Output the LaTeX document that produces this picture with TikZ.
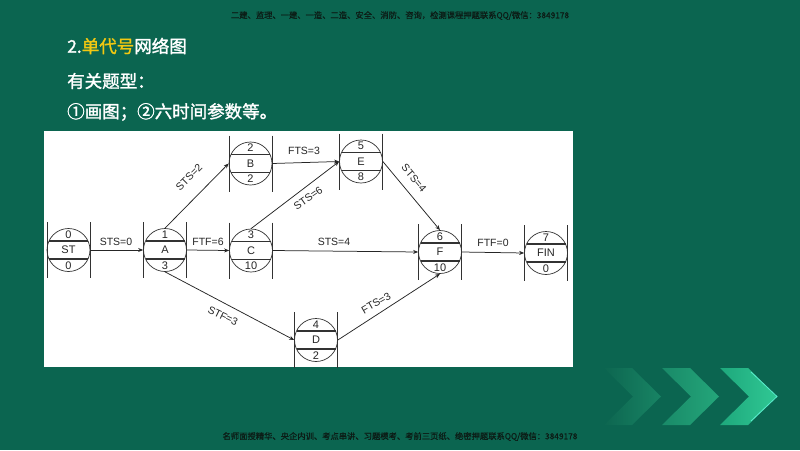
\documentclass[tikz,border=0pt]{standalone}
\usepackage{fontspec}
\setmainfont{Liberation Sans}
\newfontfamily\cjk{Noto Sans CJK SC}
\newfontfamily\cjkb[FakeBold=1.6]{Noto Sans CJK SC}
\newfontfamily\cjkh[FakeBold=0.8]{Noto Sans CJK SC}
\usetikzlibrary{arrows.meta}
\definecolor{bggreen}{RGB}{11,101,80}
\definecolor{hdr}{RGB}{12,28,22}
\definecolor{ttlyellow}{RGB}{242,200,17}
\definecolor{linegray}{RGB}{50,50,50}
\definecolor{chAl}{RGB}{13,102,80}
\definecolor{chAr}{RGB}{24,132,100}
\definecolor{chBl}{RGB}{25,138,104}
\definecolor{chBr}{RGB}{36,166,122}
\definecolor{chCl}{RGB}{30,168,124}
\definecolor{chCr}{RGB}{48,200,148}
\tikzset{
  actc/.style={circle, draw=linegray, line width=0.7pt, minimum size=43pt, inner sep=0pt},
  actl/.style={draw=linegray, line width=1.1pt},
  actbar/.style={draw=linegray, line width=1pt},
  numtxt/.style={font=\fontsize{11}{11}\selectfont, text=black!85, inner sep=0pt},
  conn/.style={draw=black!85, line width=0.75pt, -{Stealth[length=5pt,width=4pt]}},
  lbl/.style={font=\fontsize{10.5}{10.5}\selectfont, text=black!85, inner sep=0pt},
  ttl/.style={font=\cjkb\fontsize{17.5}{17.5}\selectfont, text=white, anchor=west, inner sep=0pt},
  hdrtxt/.style={font=\cjkh\fontsize{8.3}{8.3}\selectfont, text=hdr, inner sep=0pt},
}
\newcommand\actnode[6]{%
  \node[actc] (#1) at (#2,#3) {};
  \begin{scope}[shift={(#2,#3)}]
    \draw[actl] (-19.5,-9) -- (19.5,-9) (-19.5,9) -- (19.5,9);
    \draw[actbar] (-21.5,-28) -- (-21.5,28) (21.5,-28) -- (21.5,28);
    \node[numtxt] at (0,-15.5) {#4};
    \node[numtxt] at (0,0) {#5};
    \node[numtxt] at (0,15.5) {#6};
  \end{scope}}
\begin{document}
\begin{tikzpicture}[x=1pt,y=-1pt]
\fill[bggreen] (0,0) rectangle (800,450);
\useasboundingbox (0,0) rectangle (800,450);
% chevrons
\foreach \a/\cl/\cr in {604/chAl/chAr, 662/chBl/chBr, 720/chCl/chCr}{
  \shade[left color=\cl, right color=\cr]
    (\a,368) -- (\a+28,368) -- (\a+57,396.5) -- (\a+28,425) -- (\a,425) -- (\a+29,396.5) -- cycle;
}
\draw[line width=0.8pt, draw={rgb,255:red,90;green,235;blue,205}] (751,372) -- (777,396.5) -- (751,421);
% header and footer
\node[hdrtxt] (hdr) at (400,15.5) {二建、监理、一建、一造、二造、安全、消防、咨询，检测课程押题联系QQ/微信：3849178};
\node[hdrtxt] (ftr) at (400,436.5) {名师面授精华、央企内训、考点串讲、习题模考、考前三页纸、绝密押题联系QQ/微信：3849178};
% titles
\node[ttl] (t1) at (67,46) {2.\textcolor{ttlyellow}{单代号}网络图};
\node[ttl] (t2) at (67,81) {有关题型：};
\node[ttl] (t3) at (67,112) {①画图；②六时间参数等。};
% panel
\fill[white] (44,131) rectangle (573,367);
% nodes
\actnode{ST}{68.5}{250}{0}{ST}{0}
\actnode{A}{165}{250}{1}{A}{3}
\actnode{B}{250.5}{163.5}{2}{B}{2}
\actnode{C}{251}{250.5}{3}{C}{10}
\actnode{E}{361}{161.5}{5}{E}{8}
\actnode{F}{440}{252}{6}{F}{10}
\actnode{FIN}{546}{253}{7}{FIN}{0}
\actnode{D}{316}{340}{4}{D}{2}
% connectors
\draw[conn] (ST.east) -- (A.west);
\draw[conn] (A.east) -- (C.west);
\draw[conn] (A.north) -- (B.west);
\draw[conn] (B.east) -- (E.west);
\draw[conn] (C.north) -- (E.west);
\draw[conn] (C.east) -- (F.west);
\draw[conn] (E.east) -- (F.north);
\draw[conn] (F.east) -- (FIN.west);
\draw[conn] (A.south) -- (D.west);
\draw[conn] (D.east) -- (F.south);
% labels
\node[lbl] (l1) at (116,242) {STS=0};
\node[lbl] (l2) at (208,242) {FTF=6};
\node[lbl, rotate=45] (l3) at (189,177) {STS=2};
\node[lbl] (l4) at (304,151) {FTS=3};
\node[lbl, rotate=35] (l5) at (308,198) {STS=6};
\node[lbl] (l6) at (334,242) {STS=4};
\node[lbl, rotate=-50] (l7) at (414,178) {STS=4};
\node[lbl] (l8) at (493,243) {FTF=0};
\node[lbl, rotate=-26] (l9) at (223,316) {STF=3};
\node[lbl, rotate=30] (l10) at (376,303) {FTS=3};
\end{tikzpicture}
\end{document}
